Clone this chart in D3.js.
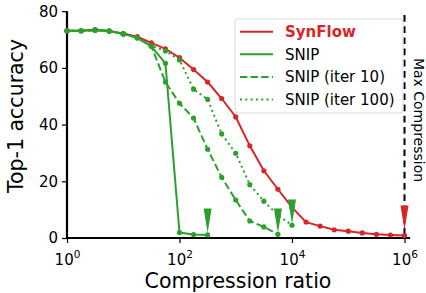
<!DOCTYPE html>
<html>
<head>
<meta charset="utf-8">
<script src="https://cdn.jsdelivr.net/npm/d3@7"></script>
<style>
  body { margin: 0; background: #fff; }
  svg text { font-family: "DejaVu Sans", sans-serif; }
</style>
</head>
<body>
<svg id="chart" width="426" height="293"></svg>
<script>
// compression ratio exponents (10^e)
const exps = [0, 0.25, 0.5, 0.75, 1, 1.25, 1.5, 1.75, 2, 2.25, 2.5, 2.75, 3, 3.25, 3.5, 3.75, 4,
  4.25, 4.5, 4.75, 5, 5.25, 5.5, 5.75, 6]

const synflow = [73.1, 73.1, 73.5, 73.0, 72.1, 71.0, 68.8, 66.7, 63.6, 59.4, 55.0, 49.2, 42.7,
  32.5, 23.7, 17.2, 10.8, 5.6, 4.2, 2.9, 2.4, 1.8, 1.3, 1.05, 0.9]
const snip = [73.1, 73.1, 73.3, 73.0, 72.0, 70.6, 67.6, 61.6, 1.9, 1.2, 1.1]
const snip10 = [73.1, 73.1, 73.3, 73.0, 72.0, 70.6, 67.6, 55.0, 47.5, 42.3, 31.3, 21.4, 13.4,
  6.0, 3.9, 1.3]
const snip100 = [73.1, 73.1, 73.3, 73.0, 72.0, 70.6, 67.8, 66.0, 62.8, 52.5, 48.9, 36.7, 29.9,
  18.8, 13.0, 8.0, 4.5]

// max compression markers (triangle tip)
const markerExp = [2.5, 3.75, 4, 6]
const markerAcc = [1.8, 1.8, 4.9, 2.8]
const markerSeries = ['snip', 'snip10', 'snip100', 'synflow']

const xTicks = [0, 2, 4, 6]
const yTicks = [0, 20, 40, 60, 80]

const RED = '#d62728'
const GREEN = '#2ca02c'

const SERIES = [
  {key: 'synflow', name: 'SynFlow', values: synflow, color: RED, dash: null, bold: true},
  {key: 'snip', name: 'SNIP', values: snip, color: GREEN, dash: null},
  {key: 'snip10', name: 'SNIP (iter 10)', values: snip10, color: GREEN, dash: '7.4,3.2'},
  {key: 'snip100', name: 'SNIP (iter 100)', values: snip100, color: GREEN, dash: '2,3.3'},
]

const svg = d3.select('#chart')
const left = 67, bottom = 238

const x = d3.scaleLog()
  .domain([1, Math.pow(10, 6.1)])
  .range([left, left + 6.1 * 56.25])

const y = d3.scaleLinear()
  .domain([0, 80])
  .range([bottom, 11.2])

// axes
const xAxis = d3.axisBottom(x)
  .tickValues(xTicks.map(e => Math.pow(10, e)))
  .tickSize(5)
  .tickFormat('')
const gx = svg.append('g')
  .attr('transform', 'translate(0,' + bottom + ')')
  .call(xAxis)
gx.select('.domain').attr('stroke-width', 2.2).attr('d', 'M' + left + ',0H' + x.range()[1])
gx.selectAll('.tick line').attr('stroke-width', 1.2)

gx.selectAll('.tick').append('text')
  .attr('y', 27)
  .attr('text-anchor', 'middle')
  .attr('fill', '#000')
  .attr('font-size', 15)
  .each(function(d){
    const t = d3.select(this)
    t.append('tspan').text('10')
    t.append('tspan').attr('dy', -7).attr('font-size', 10.5).text(Math.round(Math.log10(d)))
  })

const yAxis = d3.axisLeft(y)
  .tickValues(yTicks)
  .tickSize(5)
  .tickPadding(4)
const gy = svg.append('g')
  .attr('transform', 'translate(' + left + ',0)')
  .call(yAxis)
gy.select('.domain').attr('stroke-width', 2.2).attr('d', 'M0,' + bottom + 'V' + y(80))
gy.selectAll('.tick line').attr('stroke-width', 1.2)
gy.selectAll('.tick text').attr('font-size', 15).attr('fill', '#000')
  .attr('font-family', '"DejaVu Sans", sans-serif')

// axis labels
svg.append('text')
  .attr('x', 238)
  .attr('y', 288)
  .attr('text-anchor', 'middle')
  .attr('font-size', 20.5)
  .text('Compression ratio')

svg.append('text')
  .attr('transform', 'translate(23,116) rotate(-90)')
  .attr('text-anchor', 'middle')
  .attr('font-size', 20.5)
  .text('Top-1 accuracy')

// max compression line
svg.append('line')
  .attr('x1', x(1e6)).attr('x2', x(1e6))
  .attr('y1', 15).attr('y2', bottom)
  .attr('stroke', '#000')
  .attr('stroke-width', 2)
  .attr('stroke-dasharray', '6.7,4.5')

svg.append('text')
  .attr('transform', 'translate(413.5,120) rotate(90)')
  .attr('text-anchor', 'middle')
  .attr('font-size', 14)
  .text('Max Compression')

// series
const line = d3.line()
  .x((d, i) => x(Math.pow(10, exps[i])))
  .y(d => y(d))

const plot = svg.append('g')
SERIES.forEach(s => {
  plot.append('path')
    .datum(s.values)
    .attr('d', line)
    .attr('fill', 'none')
    .attr('stroke', s.color)
    .attr('stroke-width', 2)
    .attr('stroke-dasharray', s.dash)
  plot.append('g')
    .selectAll('circle').data(s.values)
    .enter().append('circle')
      .attr('cx', (d, i) => x(Math.pow(10, exps[i])))
      .attr('cy', d => y(d))
      .attr('r', 2.6)
      .attr('fill', s.color)
})

// triangle markers
markerExp.forEach((e, i) => {
  const s = SERIES.find(d => d.key == markerSeries[i])
  const cx = x(Math.pow(10, e)), tip = y(markerAcc[i])
  plot.append('path')
    .attr('d', 'M' + (cx - 4) + ',' + (tip - 24.5) + 'L' + (cx + 4) + ',' + (tip - 24.5) + 'L' + cx + ',' + tip + 'Z')
    .attr('fill', s.color)
})

// legend
const lg = svg.append('g').attr('transform', 'translate(235,19)')
lg.append('rect')
  .attr('width', 168).attr('height', 94)
  .attr('rx', 3)
  .attr('fill', 'rgba(255,255,255,0.85)')
  .attr('stroke', '#d8d8d8')
  .attr('stroke-width', 1)
SERIES.forEach((s, i) => {
  const cy = 12.7 + i * 22.6
  lg.append('line')
    .attr('x1', 5).attr('x2', 38)
    .attr('y1', cy).attr('y2', cy)
    .attr('stroke', s.color)
    .attr('stroke-width', 2)
    .attr('stroke-dasharray', s.dash)
  lg.append('text')
    .attr('x', 50)
    .attr('y', cy + 5.4)
    .attr('font-size', 15)
    .attr('font-weight', s.bold ? 'bold' : 'normal')
    .attr('fill', s.bold ? s.color : '#000')
    .text(s.name)
})
</script>
</body>
</html>
